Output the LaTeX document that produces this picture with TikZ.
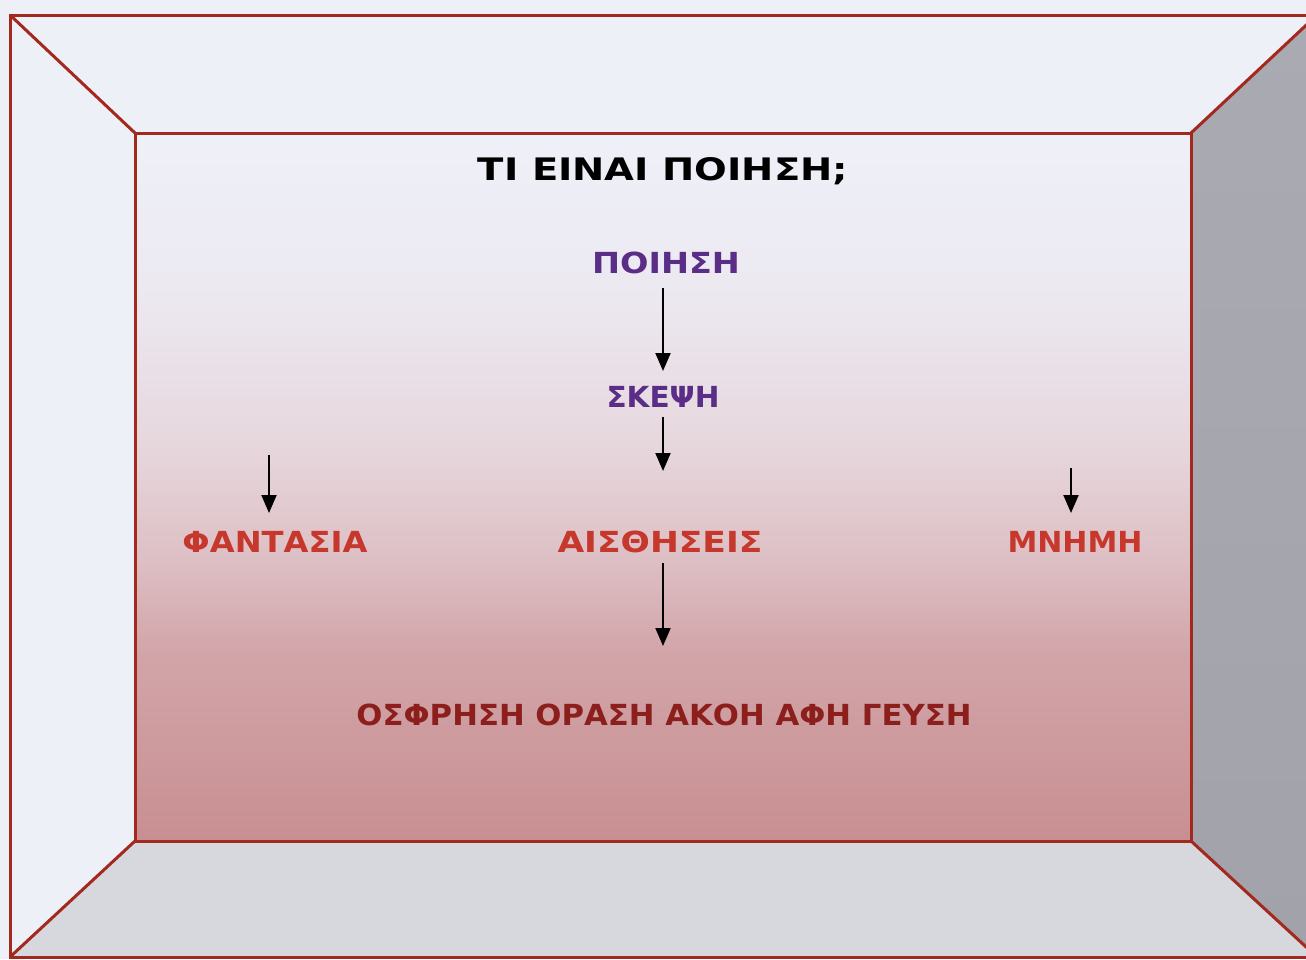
\documentclass[tikz,border=0pt]{standalone}
\usepackage{fontspec}
\setmainfont{DejaVu Sans}
\usetikzlibrary{arrows.meta}
\definecolor{framec}{HTML}{A3291F}
\definecolor{bgc}{HTML}{EEF0F8}
\definecolor{botc}{HTML}{D7D8DD}
\definecolor{rtop}{HTML}{AAAAB2}
\definecolor{rbot}{HTML}{A2A2AA}
\definecolor{ia}{HTML}{EEF0F8}
\definecolor{ib}{HTML}{ECE8F0}
\definecolor{ic}{HTML}{E6D6DC}
\definecolor{id}{HTML}{DDBFC4}
\definecolor{ie}{HTML}{D2A5A9}
\definecolor{iff}{HTML}{C88F92}
\definecolor{purp}{HTML}{5A2D86}
\definecolor{redc}{HTML}{C6372C}
\definecolor{dred}{HTML}{8C1F1C}
\newcommand{\fitw}[2]{\resizebox{#1}{\height}{#2}}
\tikzset{
  framel/.style={draw=framec, line width=3pt, line join=miter},
  lbl/.style={inner sep=0pt, anchor=base, font=\bfseries\fontsize{29}{34}\selectfont},
  arr/.style={-{Triangle[width=15pt,length=18pt]}, line width=2pt, black}
}
\begin{document}
\begin{tikzpicture}[x=1pt,y=-1pt]
\useasboundingbox (0,0) rectangle (1306,959);
\clip (0,0) rectangle (1306,959);
\fill[bgc] (0,0) rectangle (1306,959);
% right panel
\shade[top color=rtop, bottom color=rbot] (1317,15) -- (1317,957) -- (1191,841) -- (1191,133) -- cycle;
% bottom panel
\fill[botc] (135,841) -- (1191,841) -- (1317,957) -- (10,957) -- cycle;
% inner wall bands
\shade[top color=ia, bottom color=ib] (135,133) rectangle (1191,301);
\shade[top color=ib, bottom color=ic] (135,300) rectangle (1191,451);
\shade[top color=ic, bottom color=id] (135,450) rectangle (1191,561);
\shade[top color=id, bottom color=ie] (135,560) rectangle (1191,651);
\shade[top color=ie, bottom color=iff] (135,650) rectangle (1191,841);
% frame lines
\draw[framel] (10,15) rectangle (1317,957);
\draw[framel] (135,133) rectangle (1191,841);
\draw[framel] (10,15) -- (135,133);
\draw[framel] (1317,15) -- (1191,133);
\draw[framel] (10,957) -- (135,841);
\draw[framel] (1317,957) -- (1191,841);
% texts
\node[lbl, font=\bfseries\fontsize{31}{36}\selectfont] (title) at (663,180) {\fitw{370pt}{ΤΙ ΕΙΝΑΙ ΠΟΙΗΣΗ;}};
\node[lbl, text=purp] (poiisi) at (666,273) {\fitw{148pt}{ΠΟΙΗΣΗ}};
\node[lbl, text=purp] (skepsi) at (663,407) {\fitw{113pt}{ΣΚΕΨΗ}};
\node[lbl, text=redc] (fantasia) at (275,552) {\fitw{185pt}{ΦΑΝΤΑΣΙΑ}};
\node[lbl, text=redc] (aisthiseis) at (660,552) {\fitw{205pt}{ΑΙΣΘΗΣΕΙΣ}};
\node[lbl, text=redc] (mnimi) at (1075,552) {\fitw{135pt}{ΜΝΗΜΗ}};
\node[lbl, text=dred] (senses) at (664,725) {\fitw{615pt}{ΟΣΦΡΗΣΗ ΟΡΑΣΗ ΑΚΟΗ ΑΦΗ ΓΕΥΣΗ}};
% arrows
\coordinate (c1) at (663,288);
\coordinate (c2) at (663,417);
\coordinate (c3) at (663,563);
\coordinate (fs) at (269,455);
\coordinate (ms) at (1071,468);
\coordinate (c1e) at (663,371);
\coordinate (c2e) at (663,471);
\coordinate (c3e) at (663,646);
\coordinate (fe) at (269,513);
\coordinate (me) at (1071,513);
\draw[arr] (c1) -- (c1e);
\draw[arr] (c2) -- (c2e);
\draw[arr] (c3) -- (c3e);
\draw[arr] (fs) -- (fe);
\draw[arr] (ms) -- (me);
\end{tikzpicture}
\end{document}
